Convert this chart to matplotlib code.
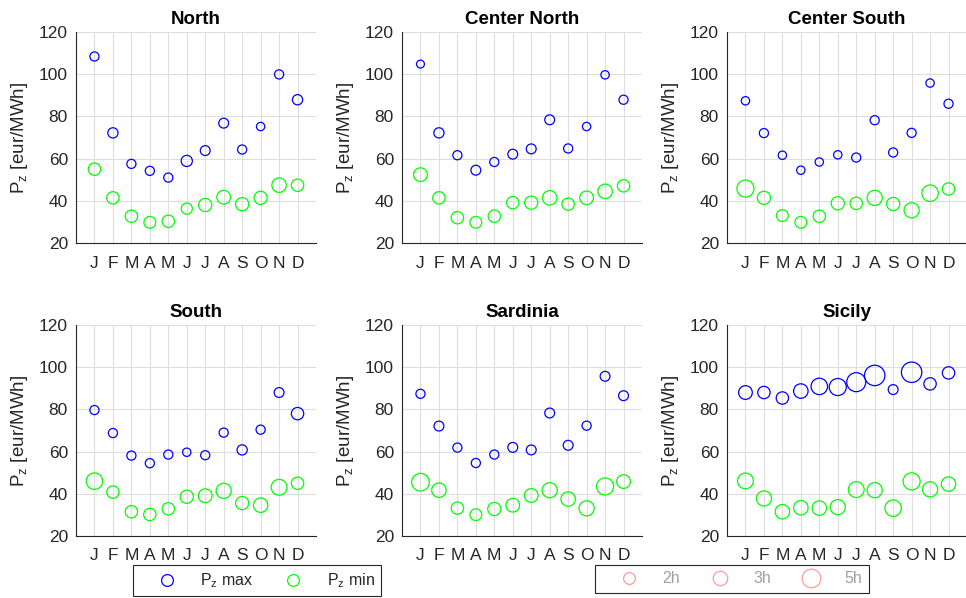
import numpy as np
import matplotlib
matplotlib.use("Agg")
import matplotlib.pyplot as plt
from matplotlib.lines import Line2D

plt.rcParams["font.family"] = ["Liberation Sans", "DejaVu Sans"]
plt.rcParams["mathtext.default"] = "regular"

# ─────────────────────────────────────────────
# DATA
# ─────────────────────────────────────────────
MONTHS = ["J", "F", "M", "A", "M", "J", "J", "A", "S", "O", "N", "D"]
ZONES  = ["North", "Center North", "Center South", "South", "Sardinia", "Sicily"]

# zonal price max / min  [eur/MWh]
north_max   = [108.4, 72.2, 57.5, 54.2, 51.0, 58.9, 63.8, 76.8, 64.3, 75.2, 99.9, 87.9]
north_min   = [55.0, 41.4, 32.7, 29.8, 30.3, 36.3, 38.0, 41.7, 38.4, 41.4, 47.4, 47.4]
cnorth_max  = [104.8, 72.2, 61.6, 54.5, 58.4, 62.1, 64.6, 78.4, 64.8, 75.2, 99.7, 87.9]
cnorth_min  = [52.4, 41.4, 32.0, 29.8, 32.7, 39.1, 39.1, 41.4, 38.4, 41.4, 44.5, 47.1]
csouth_max  = [87.4, 72.1, 61.6, 54.5, 58.4, 61.8, 60.5, 78.2, 62.9, 72.2, 95.8, 86.0]
csouth_min  = [45.8, 41.4, 33.0, 29.8, 32.7, 38.8, 38.8, 41.4, 38.5, 35.5, 43.6, 45.6]
south_max   = [79.7, 68.8, 58.1, 54.5, 58.6, 59.7, 58.3, 69.0, 60.8, 70.4, 88.0, 78.0]
south_min   = [46.0, 40.8, 31.5, 30.2, 32.9, 38.6, 39.1, 41.4, 35.6, 34.6, 43.1, 45.0]
sard_max    = [87.4, 72.1, 61.9, 54.6, 58.6, 62.0, 60.8, 78.3, 63.0, 72.3, 95.7, 86.5]
sard_min    = [45.5, 41.7, 33.2, 30.1, 32.8, 34.6, 39.2, 41.7, 37.5, 33.1, 43.5, 45.8]
sicily_max  = [88.0, 88.0, 85.4, 88.7, 90.9, 90.6, 92.9, 96.1, 89.4, 97.6, 92.1, 97.3]
sicily_min  = [46.1, 37.8, 31.5, 33.4, 33.2, 33.7, 42.0, 41.7, 33.2, 45.9, 42.1, 44.6]

# duration of the price level [h]  (marker area)
north_max_h  = [1.2, 1.5, 1.2, 1.2, 1.2, 1.8, 1.4, 1.4, 1.2, 1.0, 1.2, 1.5]
north_min_h  = [2.2, 2.2, 2.2, 2.0, 2.2, 1.8, 2.5, 2.7, 2.5, 2.5, 3.0, 2.2]
cnorth_max_h = [0.9, 1.5, 1.2, 1.4, 1.2, 1.4, 1.4, 1.4, 1.2, 1.0, 1.0, 1.2]
cnorth_min_h = [2.7, 2.2, 2.2, 2.0, 2.2, 2.2, 2.5, 3.0, 2.2, 2.7, 3.0, 2.2]
csouth_max_h = [1.0, 1.2, 1.0, 1.0, 1.0, 1.0, 1.2, 1.2, 1.2, 1.2, 1.0, 1.2]
csouth_min_h = [4.2, 2.5, 2.0, 2.0, 2.2, 2.5, 2.2, 3.3, 2.5, 3.3, 3.9, 2.2]
south_max_h  = [1.2, 1.2, 1.2, 1.2, 1.2, 1.0, 1.2, 1.2, 1.5, 1.2, 1.4, 2.2]
south_min_h  = [3.9, 2.2, 2.2, 2.2, 2.2, 2.5, 2.7, 3.3, 2.5, 3.0, 3.6, 2.2]
sard_max_h   = [1.2, 1.4, 1.2, 1.2, 1.2, 1.4, 1.4, 1.4, 1.4, 1.2, 1.4, 1.4]
sard_min_h   = [4.5, 3.0, 2.2, 2.0, 2.5, 2.7, 2.7, 3.3, 3.0, 3.3, 4.2, 2.7]
sicily_max_h = [2.7, 2.2, 2.2, 3.0, 3.9, 4.2, 5.2, 6.0, 1.4, 6.0, 2.2, 2.2]
sicily_min_h = [3.6, 3.3, 3.0, 3.0, 3.0, 3.3, 3.6, 3.3, 3.9, 4.2, 3.3, 3.0]

LEGEND_HOURS = [2, 3, 5]

pz_max = dict(zip(ZONES, [north_max, cnorth_max, csouth_max, south_max, sard_max, sicily_max]))
pz_min = dict(zip(ZONES, [north_min, cnorth_min, csouth_min, south_min, sard_min, sicily_min]))
h_max  = dict(zip(ZONES, [north_max_h, cnorth_max_h, csouth_max_h, south_max_h, sard_max_h, sicily_max_h]))
h_min  = dict(zip(ZONES, [north_min_h, cnorth_min_h, csouth_min_h, south_min_h, sard_min_h, sicily_min_h]))

# ─────────────────────────────────────────────
# STYLE
# ─────────────────────────────────────────────
W_PX, H_PX = 966, 598
LEFTS = [76, 402, 727]
TOPS  = [32, 325]
AX_W, AX_H = 240, 211

S_PER_H   = 36.0          # scatter area (pt^2) per hour
C_MAX     = "#0000FF"
C_MIN     = "#00FF00"
C_AX      = "#262626"
C_GRID    = "#DEDEDE"
FS_TICK   = 12.5

fig = plt.figure(figsize=(W_PX / 100, H_PX / 100), dpi=100)
x = np.arange(1, 13)

for k, zone in enumerate(ZONES):
    r, c = divmod(k, 3)
    ax = fig.add_axes([LEFTS[c] / W_PX, 1 - (TOPS[r] + AX_H) / H_PX, AX_W / W_PX, AX_H / H_PX])

    ax.scatter(x, pz_max[zone], s=np.array(h_max[zone]) * S_PER_H, facecolors="none",
               edgecolors=C_MAX, linewidths=0.9, zorder=3, clip_on=False)
    ax.scatter(x, pz_min[zone], s=np.array(h_min[zone]) * S_PER_H, facecolors="none",
               edgecolors=C_MIN, linewidths=0.9, zorder=3, clip_on=False)

    ax.set_xlim(0, 13)
    ax.set_ylim(20, 120)
    ax.set_xticks(x)
    ax.set_xticklabels(MONTHS)
    ax.set_yticks(range(20, 121, 20))

    ax.grid(True, color=C_GRID, lw=0.8)
    ax.set_axisbelow(True)
    for s in ["top", "right"]:
        ax.spines[s].set_visible(False)
    for s in ["left", "bottom"]:
        ax.spines[s].set_color(C_AX)
        ax.spines[s].set_linewidth(0.8)

    ax.tick_params(length=0, labelsize=FS_TICK, colors=C_AX)
    ax.tick_params(axis="x", pad=9.0)
    ax.tick_params(axis="y", pad=5.8)

    ax.set_title(zone, fontsize=13.5, fontweight="bold", pad=6.0)
    ax.set_ylabel(r"P$_{z}$ [eur/MWh]", fontsize=13.5, color=C_AX)
    ax.yaxis.set_label_coords(-0.19, 0.5)

# ── legends ─────────────────────────────────────
leg_kw = dict(loc="upper left", bbox_transform=fig.transFigure, frameon=True, fancybox=False,
              edgecolor=C_AX, framealpha=1, fontsize=11.5, handlelength=3.4,
              handletextpad=0.4, columnspacing=0.8, borderpad=0.4, borderaxespad=0)

h1 = [Line2D([], [], ls="none", marker="o", mfc="none", mec=C_MAX, mew=0.9, ms=6 * np.sqrt(2)),
      Line2D([], [], ls="none", marker="o", mfc="none", mec=C_MIN, mew=0.9, ms=6 * np.sqrt(2))]
leg1 = fig.legend(h1, [r"P$_{z}$ max", r"P$_{z}$ min"], ncol=2,
                  bbox_to_anchor=(133 / W_PX, 1 - 565 / H_PX), labelcolor=C_AX, **leg_kw)
leg1.get_frame().set_linewidth(0.8)

h2 = [Line2D([], [], ls="none", marker="o", mfc="none", mec="#FF9A9A", mew=0.9, ms=6 * np.sqrt(h))
      for h in LEGEND_HOURS]
leg2 = fig.legend(h2, [f"{h}h" for h in LEGEND_HOURS], ncol=3,
                  bbox_to_anchor=(595 / W_PX, 1 - 565 / H_PX), labelcolor="#A0A0A0", **leg_kw)
leg2.get_frame().set_linewidth(0.8)

fig.savefig("out.png", dpi=100)
